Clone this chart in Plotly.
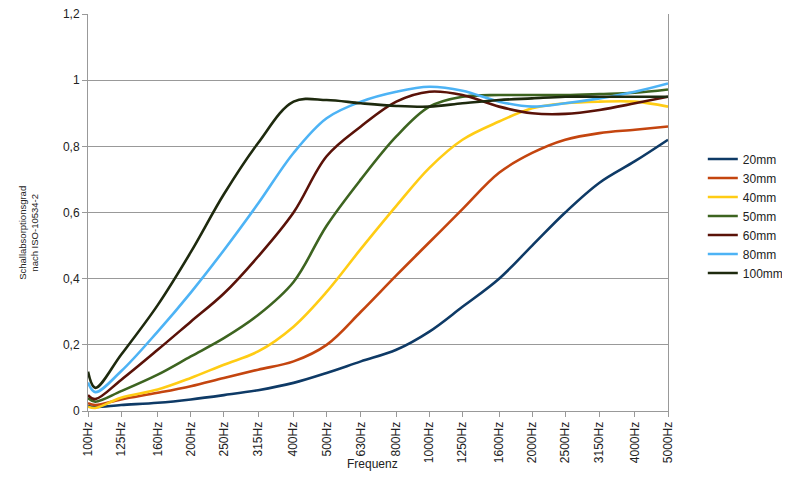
import plotly.graph_objects as go

freqs = [100, 105, 125, 160, 200, 250, 315, 400, 500, 630, 800, 1000, 1250, 1600, 2000, 2500, 3150, 4000, 5000]
tick_freqs = [100, 125, 160, 200, 250, 315, 400, 500, 630, 800, 1000, 1250, 1600, 2000, 2500, 3150, 4000, 5000]
tick_labels = [f"{f}Hz" for f in tick_freqs]

s20 = [0.015, 0.012, 0.018, 0.025, 0.035, 0.048, 0.063, 0.085, 0.115, 0.15, 0.185, 0.24, 0.315, 0.40, 0.50, 0.60, 0.69, 0.755, 0.82]
s30 = [0.024, 0.018, 0.035, 0.055, 0.075, 0.10, 0.125, 0.15, 0.20, 0.30, 0.41, 0.51, 0.61, 0.72, 0.78, 0.82, 0.84, 0.85, 0.86]
s40 = [0.013, 0.009, 0.04, 0.065, 0.10, 0.14, 0.18, 0.255, 0.36, 0.49, 0.62, 0.735, 0.82, 0.875, 0.915, 0.93, 0.935, 0.935, 0.92]
s50 = [0.039, 0.028, 0.06, 0.11, 0.165, 0.22, 0.29, 0.39, 0.56, 0.70, 0.83, 0.92, 0.95, 0.955, 0.955, 0.955, 0.958, 0.962, 0.972]
s60 = [0.048, 0.036, 0.094, 0.185, 0.27, 0.355, 0.467, 0.60, 0.77, 0.86, 0.935, 0.965, 0.955, 0.92, 0.90, 0.898, 0.91, 0.93, 0.95]
s80 = [0.086, 0.057, 0.12, 0.24, 0.358, 0.486, 0.627, 0.78, 0.885, 0.935, 0.965, 0.98, 0.968, 0.935, 0.92, 0.93, 0.945, 0.965, 0.99]
s100 = [0.119, 0.07, 0.17, 0.32, 0.48, 0.655, 0.81, 0.935, 0.94, 0.93, 0.922, 0.92, 0.93, 0.94, 0.945, 0.95, 0.95, 0.95, 0.95]

names = ["20mm", "30mm", "40mm", "50mm", "60mm", "80mm", "100mm"]
series = [s20, s30, s40, s50, s60, s80, s100]
colors = ["#0e3a66", "#c4450f", "#ffcc14", "#3d6420", "#5a1208", "#4db3f5", "#1e2a0e"]

fig = go.Figure()
for n, s, c in zip(names, series, colors):
    fig.add_trace(go.Scatter(x=freqs, y=s, name=n, mode="lines",
                             line=dict(color=c, width=2.6, shape="spline", smoothing=1.0)))

font = "Liberation Sans, Arial, sans-serif"
fig.update_layout(
    width=790, height=500,
    margin=dict(l=80, r=130, t=6, b=97, autoexpand=False),
    paper_bgcolor="white", plot_bgcolor="white",
    font=dict(family=font, size=12, color="#222"),
    showlegend=True,
    legend=dict(x=1.060, xanchor="left", y=0.491, yanchor="middle",
                font=dict(size=12, color="#222"), bgcolor="rgba(0,0,0,0)",
                tracegroupgap=0),
    xaxis=dict(type="log", range=[2, 3.69897], tickvals=tick_freqs, ticktext=tick_labels,
               tickangle=-90, showgrid=False, showline=True, linecolor="#999", linewidth=1,
               ticks="outside", ticklen=5, tickcolor="#999", zeroline=False, automargin=False,
               ticklabeloverflow="allow", tickfont=dict(size=12)),
    yaxis=dict(range=[0, 1.2], tickvals=[0, 0.2, 0.4, 0.6, 0.8, 1.0, 1.2],
               ticktext=["0", "0,2", "0,4", "0,6", "0,8", "1", "1,2"],
               showgrid=True, gridcolor="#999", gridwidth=1, automargin=False,
               showline=True, linecolor="#999", linewidth=1, mirror=True,
               ticks="outside", ticklen=5, tickcolor="#999", zeroline=False,
               ticklabeloverflow="allow", tickfont=dict(size=12)),
)
fig.add_annotation(text="Schallabsorptionsgrad<br>nach ISO-10534-2", xref="paper", yref="paper",
                   x=-0.104, y=0.448, textangle=-90, showarrow=False,
                   font=dict(size=9.5, color="#222"), xanchor="center", yanchor="middle")
fig.add_annotation(text="Frequenz", xref="paper", yref="paper",
                   x=0.49, y=-0.1335, showarrow=False,
                   font=dict(size=12, color="#222"), xanchor="center", yanchor="middle")
fig.write_html("out.html")
